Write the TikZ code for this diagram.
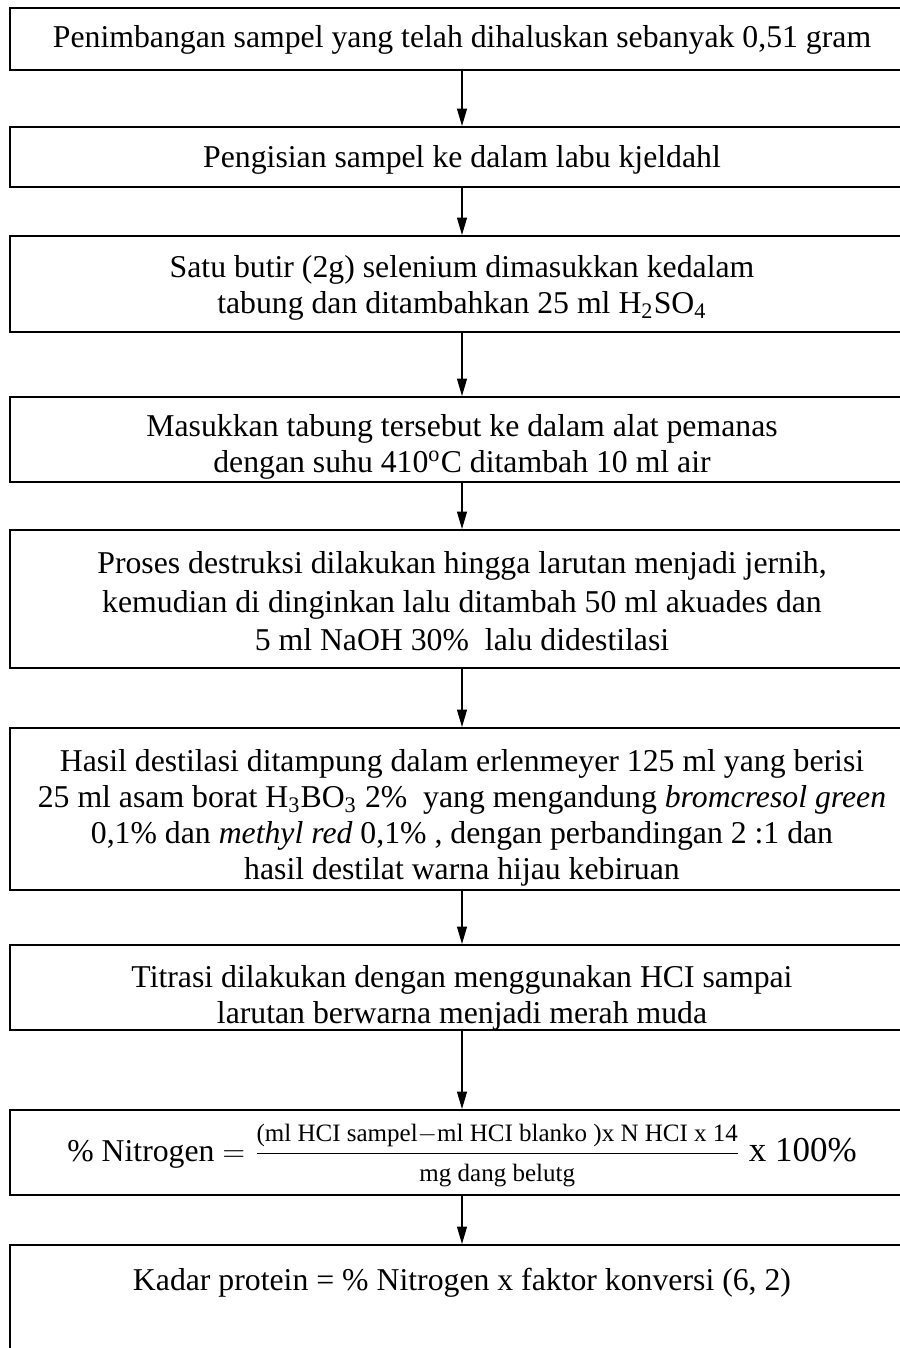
\documentclass[tikz,border=0pt]{standalone}
\usepackage{fontspec}
\setmainfont{Liberation Serif}
\usepackage{amsmath}
\usetikzlibrary{arrows.meta}
\newlength\pxu
\setlength\pxu{0.4pt}
\tikzset{
  kotak/.style={draw,line width=0.8pt,minimum width=904\pxu,inner sep=0pt},
  teks/.style={inner sep=0pt,align=center,font=\fontsize{12.7}{14.4}\selectfont},
  panah/.style={-{Triangle[width=4pt,length=7pt]},line width=0.5pt}
}
\begin{document}
\begin{tikzpicture}[x=0.4pt,y=-0.4pt]
   \useasboundingbox (0,0) rectangle (900,1348);
   % kotak-kotak
   \node[kotak,minimum height=62\pxu,label={[teks,yshift=-1\pxu]center:{Penimbangan sampel yang telah dihaluskan sebanyak 0,51 gram}}] (timbang) at (462,39) {};
   \node[kotak,minimum height=60\pxu,label={[teks,yshift=-3\pxu]center:{Pengisian sampel ke dalam labu kjeldahl}}] (isi) at (462,157) {};
   \node[kotak,minimum height=96\pxu,label={[teks,yshift=-4\pxu]center:{Satu butir (2g) selenium dimasukkan kedalam\\ tabung dan ditambahkan 25 ml H\textsubscript{2}SO\textsubscript{4}}}] (selen) at (462,284) {};
   \node[kotak,minimum height=85\pxu,label={[teks,yshift=-7\pxu]center:{Masukkan tabung tersebut ke dalam alat pemanas\\ dengan suhu 410\textsuperscript{o}C ditambah 10 ml air}}] (panas) at (462,439.5) {};
   \node[kotak,minimum height=138\pxu,label={[teks,font=\fontsize{12.7}{15.4}\selectfont,yshift=-2.5\pxu]center:{Proses destruksi dilakukan hingga larutan menjadi jernih,\\ kemudian di dinginkan lalu ditambah 50 ml akuades dan\\ 5 ml NaOH 30\%~ lalu didestilasi}}] (destruksi) at (462,599) {};
   \node[kotak,minimum height=162\pxu,label={[teks,yshift=-9\pxu]center:{Hasil destilasi ditampung dalam erlenmeyer 125 ml yang berisi\\ 25 ml asam borat H\textsubscript{3}BO\textsubscript{3} 2\%~ yang mengandung \textit{bromcresol green}\\ 0,1\% dan \textit{methyl red} 0,1\% , dengan perbandingan 2 :1 dan\\ hasil destilat warna hijau kebiruan}}] (tampung) at (462,809) {};
   \node[kotak,minimum height=85\pxu,label={[teks,yshift=-10\pxu]center:{Titrasi dilakukan dengan menggunakan HCI sampai\\ larutan berwarna menjadi merah muda}}] (titrasi) at (462,987.5) {};
   \node[kotak,minimum height=85\pxu,label={[teks,yshift=-3\pxu]center:{\% Nitrogen $=\dfrac{\text{\fontsize{10}{12}\selectfont (ml HCI sampel$-$ml HCI blanko )x N HCI x 14}}{\text{\fontsize{10}{12}\selectfont mg dang belutg}}$ {\fontsize{14}{16}\selectfont x 100\%}}}] (rumus) at (462,1152.5) {};
   \node[kotak,minimum height=115\pxu,label={[teks,yshift=19.5\pxu]center:{Kadar protein = \% Nitrogen x faktor konversi (6, 2)}}] (kadar) at (462,1302.5) {};

   % panah
   \draw[panah] (timbang) -- (isi);
   \draw[panah] (isi) -- (selen);
   \draw[panah] (selen) -- (panas);
   \draw[panah] (panas) -- (destruksi);
   \draw[panah] (destruksi) -- (tampung);
   \draw[panah] (tampung) -- (titrasi);
   \draw[panah] (titrasi) -- (rumus);
   \draw[panah] (rumus) -- (kadar);
\end{tikzpicture}
\end{document}
